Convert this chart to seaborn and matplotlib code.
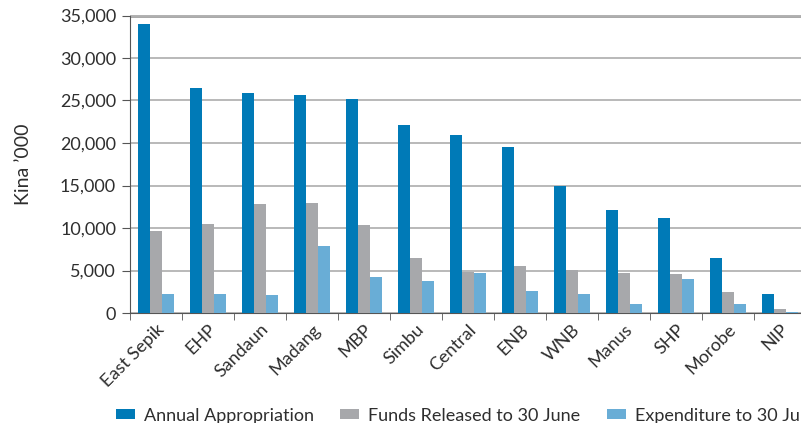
import numpy as np
import pandas as pd
import matplotlib
matplotlib.use("Agg")
import matplotlib.pyplot as plt
import seaborn as sns
from matplotlib.patches import Patch
from matplotlib.ticker import FuncFormatter, FixedLocator

# Data (Kina '000)
provinces = ["East Sepik", "EHP", "Sandaun", "Madang", "MBP", "Simbu", "Central",
             "ENB", "WNB", "Manus", "SHP", "Morobe", "NIP"]
appropriation = [34000, 26450, 25900, 25650, 25200, 22100, 20950,
                 19550, 14950, 12150, 11200, 6450, 2250]
funds_released = [9650, 10450, 12800, 12950, 10350, 6450, 4850,
                  5500, 5050, 4700, 4600, 2450, 450]
expenditure = [2250, 2250, 2100, 7850, 4250, 3750, 4700,
               2600, 2250, 1050, 4000, 1050, 100]
series = ["Annual Appropriation", "Funds Released to 30 June", "Expenditure to 30 June"]
colors = ["#007ab7", "#a7a8ab", "#69add6"]

df = pd.DataFrame({"province": provinces * 3,
                   "series": np.repeat(series, len(provinces)),
                   "value": appropriation + funds_released + expenditure})

plt.rcParams["font.family"] = ["Lato", "DejaVu Sans"]
fig = plt.figure(figsize=(8.01, 4.23), dpi=100)
ax = fig.add_axes([130 / 801, 110 / 423, 676 / 801, 297.5 / 423])

sns.barplot(data=df, x="province", y="value", hue="series", palette=colors,
            width=0.69, gap=0, saturation=1, legend=False, ax=ax, zorder=3)

ax.set_ylim(0, 35000)
ax.set_xlim(-0.5, len(provinces) - 0.5)
ax.set_yticks(np.arange(0, 35001, 5000))
ax.yaxis.set_major_formatter(FuncFormatter(lambda v, p: f"{int(v):,}"))
ax.grid(axis="y", color="#b3b3b3", linewidth=1.3, zorder=0)
ax.grid(axis="x", visible=False)
ax.axhline(35000, color="#8e8e8e", linewidth=1.8, zorder=1)
for s in ["top", "right"]:
    ax.spines[s].set_visible(False)
ax.spines["left"].set_color("#555555")
ax.spines["bottom"].set_color("#555555")
ax.tick_params(axis="y", length=6, color="#555555", labelsize=13, labelcolor="#2e2e2e", pad=4)
ax.tick_params(axis="x", which="major", length=0, labelsize=13, labelcolor="#2e2e2e", pad=6)
ax.xaxis.set_minor_locator(FixedLocator(np.arange(-0.5, len(provinces), 1)))
ax.tick_params(axis="x", which="minor", length=5, color="#555555")
plt.setp(ax.get_xticklabels(), rotation=45, ha="right", rotation_mode="anchor")
ax.set_xlabel("")
ax.set_ylabel("Kina \u2019000", fontsize=14, color="#2e2e2e", labelpad=20)

handles = [Patch(facecolor=c, label=s) for c, s in zip(colors, series)]
fig.legend(handles=handles, loc="lower left", bbox_to_anchor=(100 / 801, -0.04), ncol=3,
           frameon=False, fontsize=13, handlelength=1.05, handleheight=0.45,
           handletextpad=0.5, columnspacing=1.45, labelcolor="#2e2e2e")

fig.savefig("out.png", dpi=100)
